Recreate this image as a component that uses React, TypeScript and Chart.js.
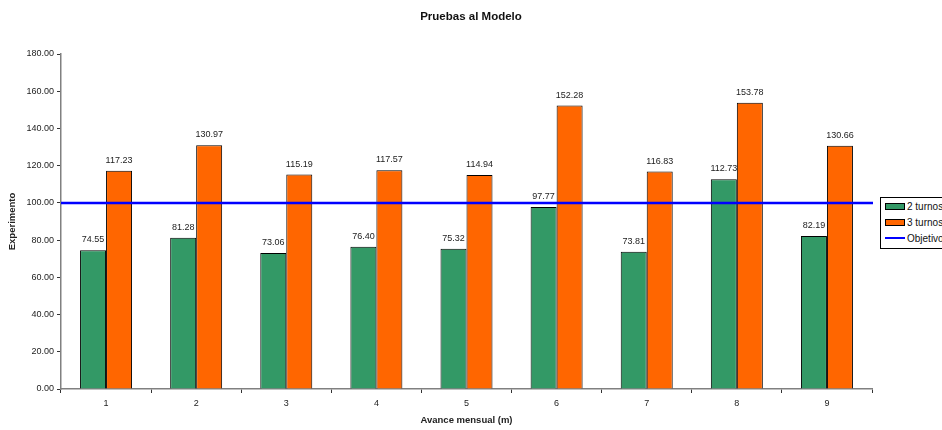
import React, { useEffect, useRef } from "react";
import { Chart, registerables } from "chart.js";

Chart.register(...registerables);

const categories = ["1", "2", "3", "4", "5", "6", "7", "8", "9"];
const dosTurnos = [74.55, 81.28, 73.06, 76.4, 75.32, 97.77, 73.81, 112.73, 82.19];
const tresTurnos = [117.23, 130.97, 115.19, 117.57, 114.94, 152.28, 116.83, 153.78, 130.66];
const objetivo = 100;
const yMax = 180;
const yStep = 20;

const FONT = "'Liberation Sans', Arial, sans-serif";
const GREEN = "#339966";
const ORANGE = "#FF6600";
const BLUE = "#0000FF";

// Writes each bar's value just above its top
const valueLabels = {
  id: "valueLabels",
  afterDatasetsDraw(chart: any) {
    const { ctx } = chart;
    ctx.save();
    ctx.font = `9px ${FONT}`;
    ctx.fillStyle = "#222";
    ctx.textAlign = "center";
    ctx.textBaseline = "bottom";
    chart.data.datasets.forEach((ds: any, i: number) => {
      const meta = chart.getDatasetMeta(i);
      meta.data.forEach((bar: any, j: number) => {
        ctx.fillText(Number(ds.data[j]).toFixed(2), bar.x, bar.y - 6);
      });
    });
    ctx.restore();
  },
};

// Horizontal target line across the whole plot, placed by the y scale
const objetivoLine = {
  id: "objetivoLine",
  afterDatasetsDraw(chart: any) {
    const { ctx, chartArea, scales } = chart;
    const y = scales.y.getPixelForValue(objetivo);
    ctx.save();
    ctx.strokeStyle = BLUE;
    ctx.lineWidth = 2.5;
    ctx.beginPath();
    ctx.moveTo(chartArea.left, y);
    ctx.lineTo(chartArea.right + 1, y);
    ctx.stroke();
    ctx.restore();
  },
};

export default function App() {
  const canvasRef = useRef<HTMLCanvasElement | null>(null);

  useEffect(() => {
    if (!canvasRef.current) return;
    const chart = new Chart(canvasRef.current, {
      type: "bar",
      data: {
        labels: categories,
        datasets: [
          {
            label: "2 turnos",
            data: dosTurnos,
            backgroundColor: GREEN,
            borderColor: "#000",
            borderWidth: 1,
          },
          {
            label: "3 turnos",
            data: tresTurnos,
            backgroundColor: ORANGE,
            borderColor: "#000",
            borderWidth: 1,
          },
        ],
      },
      options: {
        animation: false,
        responsive: false,
        maintainAspectRatio: false,
        layout: { padding: { top: 54, right: 70, bottom: 0, left: 0 } },
        plugins: {
          legend: { display: false },
          title: { display: false },
          tooltip: { enabled: false },
        },
        datasets: {
          bar: { categoryPercentage: 0.577, barPercentage: 1 },
        },
        scales: {
          x: {
            type: "category",
            afterFit(scale: any) {
              scale.height = 41;
            },
            grid: {
              offset: true,
              drawOnChartArea: false,
              drawTicks: true,
              tickLength: 4,
              color: "#333",
            },
            border: { display: true, color: "#808080", width: 1.5 },
            ticks: {
              font: { family: FONT, size: 9 },
              color: "#222",
              padding: 5,
              maxRotation: 0,
            },
            title: {
              display: true,
              text: "Avance mensual (m)",
              font: { family: FONT, size: 9.5, weight: "bold" },
              color: "#222",
              padding: { top: 4, bottom: 4 },
            },
          },
          y: {
            min: 0,
            max: yMax,
            afterFit(scale: any) {
              scale.width = 61;
            },
            grid: {
              drawOnChartArea: false,
              drawTicks: true,
              tickLength: 4,
              color: "#333",
            },
            border: { display: true, color: "#808080", width: 1.5 },
            ticks: {
              stepSize: yStep,
              font: { family: FONT, size: 9 },
              color: "#222",
              padding: 3,
              callback: (v: any) => Number(v).toFixed(2),
            },
            title: {
              display: true,
              text: "Experimento",
              font: { family: FONT, size: 9.5, weight: "bold" },
              color: "#222",
              padding: { top: 7, bottom: 4 },
            },
          },
        },
      },
      plugins: [objetivoLine, valueLabels],
    });
    return () => chart.destroy();
  }, []);

  const swatch = (color: string) => (
    <span
      style={{
        display: "inline-block",
        width: 18,
        height: 5,
        background: color,
        border: "1px solid #000",
        marginRight: 2,
      }}
    />
  );

  const rowStyle: React.CSSProperties = {
    display: "flex",
    alignItems: "center",
    height: 15.7,
    paddingLeft: 4,
  };

  return (
    <div
      style={{
        position: "fixed",
        left: 0,
        top: 0,
        width: 942,
        height: 430,
        overflow: "hidden",
        background: "#fff",
        fontFamily: FONT,
      }}
    >
      <canvas ref={canvasRef} width={942} height={430} style={{ display: "block" }} />
      <div
        style={{
          position: "absolute",
          left: 0,
          top: 8,
          width: 942,
          textAlign: "center",
          fontSize: 11.5,
          fontWeight: "bold",
          color: "#111",
          lineHeight: "16px",
        }}
      >
        Pruebas al Modelo
      </div>
      <div
        style={{
          position: "absolute",
          left: 880,
          top: 197,
          width: 76,
          background: "#fff",
          border: "1px solid #000",
          paddingTop: 1,
          paddingBottom: 2,
          fontSize: 10,
          color: "#111",
        }}
      >
        <div style={rowStyle}>
          {swatch(GREEN)}2 turnos
        </div>
        <div style={rowStyle}>
          {swatch(ORANGE)}3 turnos
        </div>
        <div style={rowStyle}>
          <span
            style={{
              display: "inline-block",
              width: 20,
              height: 2.5,
              background: BLUE,
              marginRight: 2,
            }}
          />
          Objetivo
        </div>
      </div>
    </div>
  );
}
